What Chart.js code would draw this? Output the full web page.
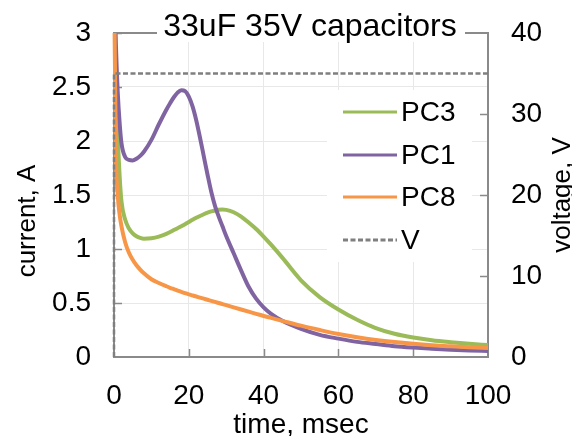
<!DOCTYPE html>
<html>
<head>
<meta charset="utf-8">
<script src="https://cdn.jsdelivr.net/npm/chart.js@4.4.1/dist/chart.umd.min.js"></script>
<style>
  html, body { margin: 0; padding: 0; background: #ffffff; }
  #wrap { width: 572px; height: 436px; }
</style>
</head>
<body>
<div id="wrap"><canvas id="c" width="572" height="436"></canvas></div>
<script>
// ---- data ----
const chartTitle = '33uF 35V capacitors';
const xTitle = 'time, msec';
const yTitle = 'current, A';
const y2Title = 'voltage, V';

const times = [0, 0.5, 1, 1.5, 2, 3, 4, 5, 6, 7, 8, 10, 12, 14, 15, 16, 17, 18, 19, 20, 21, 22, 23, 24, 25, 26, 27, 28, 29, 30, 32, 34, 36, 38, 40, 42, 45, 50, 55, 60, 65, 70, 75, 80, 85, 90, 95, 100];

const pc3 = [3.6, 2.6, 2.05, 1.68, 1.44, 1.27, 1.19, 1.145, 1.118, 1.103, 1.096, 1.10, 1.115, 1.14, 1.157, 1.175, 1.193, 1.211, 1.23, 1.25, 1.27, 1.289, 1.306, 1.322, 1.336, 1.348, 1.357, 1.363, 1.365, 1.362, 1.34, 1.30, 1.245, 1.185, 1.115, 1.04, 0.92, 0.71, 0.555, 0.44, 0.345, 0.268, 0.215, 0.18, 0.155, 0.137, 0.122, 0.11];

const pc1 = [3.6, 2.9, 2.45, 2.17, 1.98, 1.85, 1.825, 1.82, 1.835, 1.862, 1.90, 2.01, 2.155, 2.29, 2.35, 2.405, 2.448, 2.47, 2.462, 2.41, 2.32, 2.19, 2.03, 1.86, 1.69, 1.53, 1.40, 1.30, 1.21, 1.12, 0.96, 0.80, 0.65, 0.54, 0.46, 0.40, 0.335, 0.26, 0.205, 0.17, 0.14, 0.12, 0.10, 0.087, 0.077, 0.068, 0.061, 0.055];

const pc8 = [3.6, 1.9, 1.5, 1.32, 1.21, 1.06, 0.965, 0.90, 0.85, 0.81, 0.775, 0.72, 0.685, 0.655, 0.641, 0.628, 0.615, 0.603, 0.591, 0.58, 0.57, 0.56, 0.55, 0.54, 0.53, 0.52, 0.51, 0.50, 0.49, 0.48, 0.46, 0.44, 0.42, 0.40, 0.38, 0.362, 0.335, 0.29, 0.25, 0.213, 0.183, 0.158, 0.138, 0.122, 0.109, 0.099, 0.09, 0.083];

const vTimes = [0, 0, 100];
const vVolts = [0, 35, 35];

const xTickLabels = ['0', '20', '40', '60', '80', '100'];
const yTickLabels = ['0', '0.5', '1', '1.5', '2', '2.5', '3'];
const y2TickLabels = ['0', '10', '20', '30', '40'];

const seriesNames = ['PC3', 'PC1', 'PC8', 'V'];

// ---- styles ----
const FONT = '"Liberation Sans", Arial, sans-serif';
const GREEN = '#9bbb59', PURPLE = '#8064a2', ORANGE = '#f79646', GRAY = '#7f7f7f';
const AXIS = '#8a8a8a', GRID = '#e8e8e8';

const toXY = (ts, vs) => ts.map((t, i) => ({ x: t, y: vs[i] }));

const curveStyle = (color) => ({
  borderColor: color, backgroundColor: color, borderWidth: 4,
  pointRadius: 0, pointHoverRadius: 0, fill: false,
  cubicInterpolationMode: 'monotone',
  clip: { left: 4, top: 0, right: 0, bottom: 0 }
});

const noPad = s => { s.paddingTop = 0; s.paddingBottom = 0; s.paddingLeft = 0; s.paddingRight = 0; };

const decor = {
  id: 'decor',
  beforeDatasetsDraw(chart) {
    const { ctx, chartArea: a, scales } = chart;
    ctx.save();
    ctx.strokeStyle = AXIS;
    ctx.lineWidth = 1.5;
    ctx.beginPath();
    for (let i = 1; i < yTickLabels.length; i++) {
      const y = Math.round(scales.y.getPixelForValue(parseFloat(yTickLabels[i]))) + 0.5;
      ctx.moveTo(a.left, y); ctx.lineTo(a.left + 8, y);
    }
    for (let i = 1; i < xTickLabels.length - 1; i++) {
      const x = Math.round(scales.x.getPixelForValue(parseFloat(xTickLabels[i]))) + 0.5;
      ctx.moveTo(x, a.bottom); ctx.lineTo(x, a.bottom - 8);
    }
    for (let i = 1; i < y2TickLabels.length - 1; i++) {
      const y = Math.round(scales.y2.getPixelForValue(parseFloat(y2TickLabels[i]))) + 0.5;
      ctx.moveTo(a.right, y); ctx.lineTo(a.right - 8, y);
    }
    ctx.stroke();
    ctx.lineWidth = 2;
    ctx.beginPath();
    ctx.moveTo(a.left - 1, a.top); ctx.lineTo(a.right + 1, a.top);
    ctx.stroke();
    ctx.restore();
  },
  afterDraw(chart) {
    const { ctx, chartArea: a } = chart;
    ctx.save();
    ctx.fillStyle = '#ffffff';
    ctx.fillRect(327, 90, 145, 172);
    const ds = chart.data.datasets;
    const rows = [112, 155, 197, 240];
    ctx.font = '28px ' + FONT;
    ctx.textBaseline = 'middle';
    ctx.textAlign = 'left';
    seriesNames.forEach((name, i) => {
      const d = ds.find(s => s.label === name);
      ctx.strokeStyle = d.borderColor;
      ctx.lineWidth = 3;
      ctx.setLineDash(d.borderDash || []);
      ctx.beginPath();
      ctx.moveTo(343, rows[i]); ctx.lineTo(397, rows[i]);
      ctx.stroke();
      ctx.setLineDash([]);
      ctx.fillStyle = '#000000';
      ctx.fillText(name, 401, rows[i] + 1);
    });
    ctx.fillStyle = '#ffffff';
    ctx.fillRect(157, 0, 308, 42);
    ctx.fillStyle = '#000000';
    ctx.font = '32px ' + FONT;
    ctx.textAlign = 'center';
    ctx.textBaseline = 'alphabetic';
    ctx.fillText(chartTitle, 310, 36);
    ctx.font = '28px ' + FONT;
    ctx.fillText(xTitle, (a.left + a.right) / 2, 433);
    ctx.font = '26px ' + FONT;
    ctx.save();
    ctx.translate(35, 221);
    ctx.rotate(-Math.PI / 2);
    ctx.fillText(yTitle, 0, 0);
    ctx.restore();
    ctx.save();
    ctx.translate(570, (a.top + a.bottom) / 2);
    ctx.rotate(-Math.PI / 2);
    ctx.fillText(y2Title, 0, 0);
    ctx.restore();
    ctx.restore();
  }
};

new Chart(document.getElementById('c'), {
  type: 'line',
  data: {
    datasets: [
      Object.assign({ label: 'V', data: toXY(vTimes, vVolts), yAxisID: 'y2', order: 0 },
        { borderColor: GRAY, backgroundColor: GRAY, borderWidth: 2.5, borderDash: [5, 2.5],
          pointRadius: 0, pointHoverRadius: 0, fill: false, tension: 0, clip: 5 }),
      Object.assign({ label: 'PC8', data: toXY(times, pc8), yAxisID: 'y', order: 1 }, curveStyle(ORANGE)),
      Object.assign({ label: 'PC1', data: toXY(times, pc1), yAxisID: 'y', order: 2 }, curveStyle(PURPLE)),
      Object.assign({ label: 'PC3', data: toXY(times, pc3), yAxisID: 'y', order: 3 }, curveStyle(GREEN))
    ]
  },
  options: {
    responsive: false,
    animation: false,
    devicePixelRatio: 1,
    layout: { padding: { top: 33, left: 0, right: 0, bottom: 0 } },
    plugins: { legend: { display: false }, title: { display: false }, tooltip: { enabled: false } },
    scales: {
      x: {
        type: 'linear', min: 0, max: 100,
        afterFit: s => { s.height = 79; noPad(s); },
        ticks: { stepSize: 20, padding: 22, color: '#000', font: { family: FONT, size: 28 },
                 callback: (v, i) => xTickLabels[i] },
        grid: { color: GRID, lineWidth: 1, drawTicks: false },
        border: { color: AXIS, width: 2 }
      },
      y: {
        position: 'left', min: 0, max: 3,
        afterFit: s => { s.width = 114; noPad(s); },
        ticks: { stepSize: 0.5, padding: 23, color: '#000', font: { family: FONT, size: 28 },
                 callback: (v, i) => yTickLabels[i] },
        grid: { color: GRID, lineWidth: 1, drawTicks: false },
        border: { color: AXIS, width: 2 }
      },
      y2: {
        position: 'right', min: 0, max: 40,
        afterFit: s => { s.width = 84; noPad(s); },
        ticks: { stepSize: 10, padding: 23, color: '#000', font: { family: FONT, size: 28 },
                 callback: (v, i) => y2TickLabels[i] },
        grid: { display: false, drawTicks: false },
        border: { color: AXIS, width: 2 }
      }
    }
  },
  plugins: [decor]
});
</script>
</body>
</html>
